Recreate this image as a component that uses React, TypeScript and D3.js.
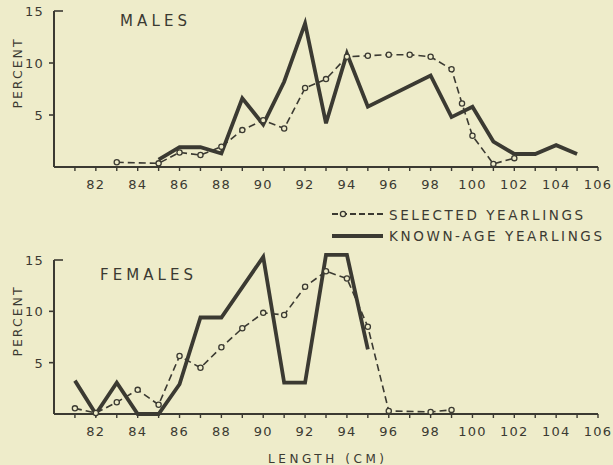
import React from 'react';
import * as d3 from 'd3';

// length classes (cm) and percent values
const malesSelectedLength = [83, 85, 86, 87, 88, 89, 90, 91, 92, 93, 94, 95, 96, 97, 98, 99, 99.5, 100, 101, 102];
const malesSelectedPct = [0.45, 0.35, 1.4, 1.15, 1.95, 3.55, 4.5, 3.7, 7.6, 8.45, 10.6, 10.7, 10.8, 10.8, 10.6, 9.4, 6.1, 3.0, 0.3, 0.85];

const malesKnownLength = [85, 86, 87, 88, 89, 90, 91, 92, 93, 94, 95, 98, 99, 100, 101, 102, 103, 104, 105];
const malesKnownPct = [0.7, 1.9, 1.9, 1.3, 6.6, 4.1, 8.2, 13.8, 4.2, 10.9, 5.8, 8.8, 4.8, 5.8, 2.45, 1.25, 1.25, 2.1, 1.25];

const femalesSelectedLength = [81, 82, 83, 84, 85, 86, 87, 88, 89, 90, 91, 92, 93, 94, 95, 96, 98, 99];
const femalesSelectedPct = [0.55, 0.1, 1.15, 2.35, 0.9, 5.65, 4.5, 6.5, 8.35, 9.85, 9.65, 12.4, 13.9, 13.2, 8.5, 0.3, 0.2, 0.4];

const femalesKnownLength = [81, 82, 83, 84, 85, 86, 87, 88, 90, 91, 92, 93, 94, 95];
const femalesKnownPct = [3.25, 0, 3.05, 0, 0, 2.9, 9.4, 9.4, 15.3, 3.05, 3.05, 15.5, 15.5, 6.3];

const xTickLabels = [82, 84, 86, 88, 90, 92, 94, 96, 98, 100, 102, 104, 106];
const yTickLabels = [5, 10, 15];
const legendLabels = ['SELECTED YEARLINGS', 'KNOWN-AGE YEARLINGS'];

const BG = '#eeecca';
const INK = '#3b3a32';
const FONT = "'DejaVu Sans', sans-serif";

const x = d3.scaleLinear().domain([80, 106]).range([54, 598]);
const minorTicks = d3.range(81, 107);

type PanelProps = {
  title: string;
  titleX: number;
  titleY: number;
  titleLen: number;
  y: d3.ScaleLinear<number, number>;
  selLen: number[];
  selPct: number[];
  knownLen: number[];
  knownPct: number[];
};

function Panel({ title, titleX, titleY, titleLen, y, selLen, selPct, knownLen, knownPct }: PanelProps) {
  const y0 = y(0);
  const line = d3.line<[number, number]>()
    .x(d => x(d[0]))
    .y(d => y(d[1]));
  const sel: [number, number][] = selLen.map((v, i) => [v, selPct[i]]);
  const known: [number, number][] = knownLen.map((v, i) => [v, knownPct[i]]);
  const top = y(15);
  return (
    <g>
      {/* axes */}
      <line x1={54} x2={54} y1={top} y2={y0} stroke={INK} strokeWidth={2} />
      <line x1={54} x2={598} y1={y0} y2={y0} stroke={INK} strokeWidth={2} />
      {minorTicks.map(t => (
        <line key={t} x1={x(t)} x2={x(t)} y1={y0} y2={y0 + 4} stroke={INK} strokeWidth={1.4} />
      ))}
      {xTickLabels.map(t => (
        <text key={t} x={x(t)} y={y0 + 22} textAnchor="middle" fontSize={13}
          letterSpacing={1.2} fill={INK} fontFamily={FONT}>{t}</text>
      ))}
      {yTickLabels.map(t => (
        <g key={t}>
          {t === 15
            ? <line x1={54} x2={63} y1={y(t)} y2={y(t)} stroke={INK} strokeWidth={1.6} />
            : <line x1={49} x2={54} y1={y(t)} y2={y(t)} stroke={INK} strokeWidth={1.6} />}
          <text x={44} y={y(t) + 5} textAnchor="end" fontSize={13} letterSpacing={1.2}
            fill={INK} fontFamily={FONT}>{t}</text>
        </g>
      ))}
      <text transform={`translate(22,${(top + y0) / 2 - 16}) rotate(-90)`} textAnchor="middle"
        fontSize={12.5} letterSpacing={2} fill={INK} fontFamily={FONT}>PERCENT</text>
      <text x={titleX} y={titleY} fontSize={15} textLength={titleLen} lengthAdjust="spacing"
        fill={INK} fontFamily={FONT}>{title}</text>

      {/* known-age yearlings */}
      <path d={line(known) || ''} fill="none" stroke={INK} strokeWidth={3.8} strokeLinejoin="miter" />
      {/* selected yearlings */}
      <path d={line(sel) || ''} fill="none" stroke={INK} strokeWidth={1.6} strokeDasharray="7 4" />
      {sel.map((d, i) => (
        <circle key={i} cx={x(d[0])} cy={y(d[1])} r={2.6} fill={BG} stroke={INK} strokeWidth={1.3} />
      ))}
    </g>
  );
}

export default function App() {
  const yTop = d3.scaleLinear().domain([0, 15]).range([167, 11]);
  const yBottom = d3.scaleLinear().domain([0, 15]).range([414, 260]);
  return (
    <svg width={613} height={465} style={{ position: 'absolute', left: 0, top: 0 }}>
      <rect width={613} height={465} fill={BG} />
      <Panel title="MALES" titleX={120} titleY={26} titleLen={67} y={yTop}
        selLen={malesSelectedLength} selPct={malesSelectedPct}
        knownLen={malesKnownLength} knownPct={malesKnownPct} />
      <Panel title="FEMALES" titleX={100} titleY={280} titleLen={93} y={yBottom}
        selLen={femalesSelectedLength} selPct={femalesSelectedPct}
        knownLen={femalesKnownLength} knownPct={femalesKnownPct} />

      {/* legend */}
      <line x1={332} x2={383} y1={214} y2={214} stroke={INK} strokeWidth={1.8} strokeDasharray="6 3" />
      <circle cx={343} cy={214} r={2.6} fill={BG} stroke={INK} strokeWidth={1.3} />
      <line x1={332} x2={383} y1={236} y2={236} stroke={INK} strokeWidth={3.8} />
      <text x={389} y={220} fontSize={13.5} textLength={194} lengthAdjust="spacing"
        fill={INK} fontFamily={FONT}>{legendLabels[0]}</text>
      <text x={389} y={241} fontSize={13.5} textLength={213} lengthAdjust="spacing"
        fill={INK} fontFamily={FONT}>{legendLabels[1]}</text>

      <text x={268} y={463} fontSize={12} textLength={116} lengthAdjust="spacing"
        fill={INK} fontFamily={FONT}>LENGTH (CM)</text>
    </svg>
  );
}
